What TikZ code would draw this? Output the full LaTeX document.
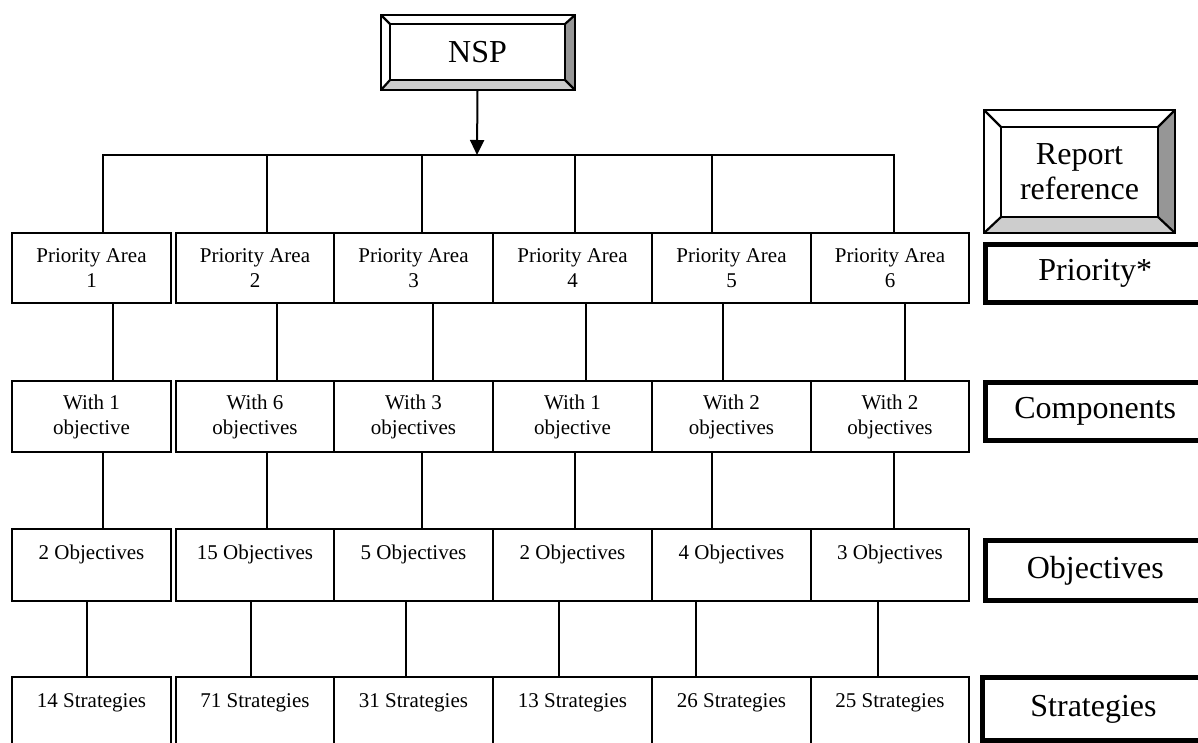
\documentclass[tikz,border=0pt]{standalone}
\usepackage{fontspec}
\setmainfont{Liberation Serif}
\usetikzlibrary{calc,arrows.meta}
\definecolor{bevR}{RGB}{150,150,150}
\definecolor{bevB}{RGB}{205,205,205}
\newcommand\bevelframe[5]{%
 \coordinate (#1itl) at (#1.north west);
 \coordinate (#1itr) at (#1.north east);
 \coordinate (#1ibl) at (#1.south west);
 \coordinate (#1ibr) at (#1.south east);
 \coordinate (#1otl) at ($(#1.north west)+(-#2,-#3)$);
 \coordinate (#1otr) at ($(#1.north east)+(#4,-#3)$);
 \coordinate (#1obl) at ($(#1.south west)+(-#2,#5)$);
 \coordinate (#1obr) at ($(#1.south east)+(#4,#5)$);
 \fill[white] (#1otl) -- (#1otr) -- (#1itr) -- (#1itl) -- cycle;
 \fill[white] (#1otl) -- (#1itl) -- (#1ibl) -- (#1obl) -- cycle;
 \fill[bevR] (#1otr) -- (#1obr) -- (#1ibr) -- (#1itr) -- cycle;
 \fill[bevB] (#1obl) -- (#1ibl) -- (#1ibr) -- (#1obr) -- cycle;
 \draw[bevline] (#1otl) rectangle (#1obr);
 \draw[bevline] (#1itl) rectangle (#1ibr);
 \draw[bevline] (#1otl) -- (#1itl) (#1otr) -- (#1itr) (#1obl) -- (#1ibl) (#1obr) -- (#1ibr);
}
\begin{document}
\begin{tikzpicture}[x=1pt,y=-1pt,line width=1.6pt,
  sfont/.style={font=\fontsize{21}{25}\selectfont},
  lfont/.style={font=\fontsize{32}{35}\selectfont},
  cell/.style={draw, rectangle, inner sep=0pt, outer sep=0pt, align=center, sfont},
  bevbox/.style={rectangle, inner sep=0pt, outer sep=0pt, align=center, lfont},
  bevline/.style={line width=2.2pt, line join=miter},
  lab/.style={draw, rectangle, line width=5pt, inner sep=0pt, outer sep=0pt, align=center, lfont},
  conn/.style={line width=1.6pt},
  arr/.style={line width=2pt, -{Triangle[length=15pt,width=14pt]}}
]
\useasboundingbox (0,0) rectangle (1198,742);
\clip (0,0) rectangle (1198,742);

% top node
\node[bevbox, minimum width=175, minimum height=56] (nsp) at (477.5,52) {NSP};
\bevelframe{nsp}{9}{9}{10}{10}

% report reference
\node[bevbox, minimum width=157, minimum height=90] (rep) at (1079.5,172) {Report\\reference};
\bevelframe{rep}{17}{17}{17}{16}

% bus
\coordinate (bus) at (477,155);
\draw[arr] (nsp.south |- nspobl) -- (bus);

% grid of boxes
\foreach \i/\cx/\w/\pt/\ct/\ot/\st in {
  1/91.5/159/{Priority Area\\1}/{With 1\\objective}/{2 Objectives}/{14 Strategies},
  2/255/158/{Priority Area\\2}/{With 6\\objectives}/{15 Objectives}/{71 Strategies},
  3/413.5/159/{Priority Area\\3}/{With 3\\objectives}/{5 Objectives}/{31 Strategies},
  4/572.5/159/{Priority Area\\4}/{With 1\\objective}/{2 Objectives}/{13 Strategies},
  5/731.5/159/{Priority Area\\5}/{With 2\\objectives}/{4 Objectives}/{26 Strategies},
  6/890/158/{Priority Area\\6}/{With 2\\objectives}/{3 Objectives}/{25 Strategies}}{
  \node[cell, minimum width=\w, minimum height=70] (p\i) at (\cx,268) {\pt};
  \node[cell, minimum width=\w, minimum height=71] (c\i) at (\cx,416.5) {\ct};
  \node[cell, minimum width=\w, minimum height=72] (o\i) at (\cx,565) {\ot\\\mbox{}};
  \node[cell, minimum width=\w, minimum height=72] (s\i) at (\cx,713) {\st\\\mbox{}};
}

% connectors
\foreach \i/\a/\b/\c in {1/11.5/21.5/-4.5, 2/12/22/-4, 3/8.5/19.5/-7.5,
                         4/2.5/13.5/-13.5, 5/-19.5/-8.5/-35.5, 6/4/15/-12}{
  \coordinate (t\i) at ([xshift=\a pt]p\i.north);
  \coordinate (u\i) at ([xshift=\b pt]p\i.south);
  \coordinate (v\i) at ([xshift=\a pt]c\i.south);
  \coordinate (w\i) at ([xshift=\c pt]o\i.south);
  \draw[conn] (t\i) -- (t\i |- bus);
  \draw[conn] (u\i) -- (u\i |- c\i.north);
  \draw[conn] (v\i) -- (v\i |- o\i.north);
  \draw[conn] (w\i) -- (w\i |- s\i.north);
}
\draw[conn, line cap=rect] (t1 |- bus) -- (t6 |- bus);

% right labels
\node[lab, minimum width=219.5, minimum height=58] (lpri) at (1095.25,273.5) {Priority*};
\node[lab, minimum width=219.5, minimum height=58] (lcom) at (1095.25,411.5) {Components};
\node[lab, minimum width=219.5, minimum height=60] (lobj) at (1095.25,570.5) {Objectives};
\node[lab, minimum width=223, minimum height=63] (lstr) at (1093.5,709) {Strategies};
\end{tikzpicture}
\end{document}
